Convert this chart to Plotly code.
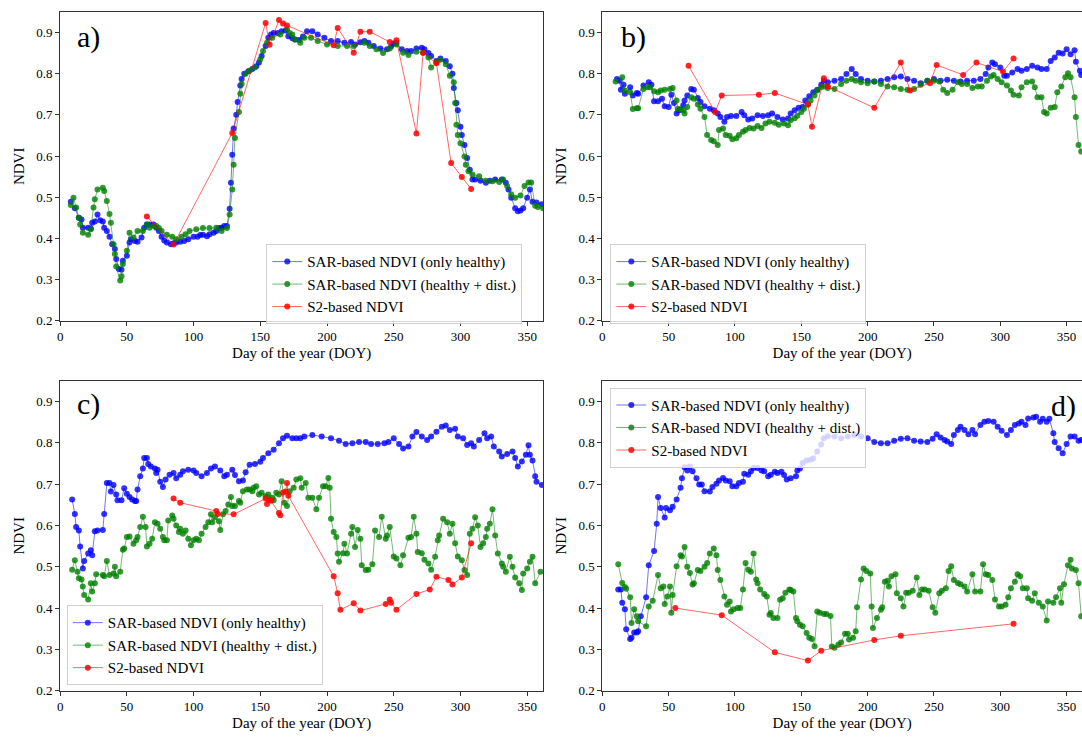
import plotly.graph_objects as go

# ---------------- Panel a ----------------
A_DOY_H = [8, 11, 14, 16, 17, 21, 23, 24, 26, 28, 30, 32, 33, 35, 37, 39, 41, 42, 44, 46, 47, 50, 52, 53, 56, 58,
           61, 63, 65, 67, 70, 72, 74, 76, 78, 80, 83, 85, 87, 90, 93, 96, 100, 103, 105, 107, 110, 112, 115, 117,
           119, 121, 123, 125, 127, 128, 129, 130, 132, 133, 135, 136, 138, 141, 144, 147, 149, 151, 154, 156, 158,
           160, 163, 166, 169, 171, 174, 176, 179, 182, 185, 189, 193, 198, 203, 208, 213, 218, 221, 225, 228, 231,
           235, 240, 245, 248, 250, 252, 256, 260, 263, 267, 271, 273, 276, 278, 282, 285, 289, 292, 294, 295, 297,
           298, 300, 301, 303, 305, 307, 309, 311, 315, 319, 322, 326, 331, 334, 336, 338, 341, 343, 345, 347, 350,
           352, 354, 357, 361]
A_NDVI_H = [0.489, 0.473, 0.450, 0.446, 0.426, 0.426, 0.424, 0.438, 0.441, 0.458, 0.444, 0.441, 0.426, 0.418, 0.404,
            0.386, 0.374, 0.350, 0.326, 0.324, 0.346, 0.358, 0.390, 0.398, 0.394, 0.392, 0.402, 0.426, 0.434, 0.434,
            0.434, 0.426, 0.418, 0.404, 0.395, 0.390, 0.386, 0.388, 0.390, 0.392, 0.394, 0.398, 0.404, 0.404, 0.408,
            0.409, 0.405, 0.410, 0.414, 0.418, 0.425, 0.426, 0.430, 0.430, 0.472, 0.535, 0.603, 0.667, 0.700, 0.731,
            0.771, 0.787, 0.800, 0.806, 0.811, 0.818, 0.827, 0.843, 0.867, 0.887, 0.895, 0.899, 0.899, 0.903, 0.905,
            0.891, 0.886, 0.883, 0.882, 0.890, 0.903, 0.903, 0.895, 0.887, 0.879, 0.879, 0.875, 0.877, 0.871, 0.876,
            0.879, 0.875, 0.867, 0.861, 0.859, 0.866, 0.873, 0.875, 0.859, 0.855, 0.855, 0.861, 0.863, 0.859, 0.850,
            0.843, 0.831, 0.837, 0.831, 0.818, 0.800, 0.765, 0.729, 0.711, 0.671, 0.651, 0.627, 0.595, 0.567, 0.543,
            0.543, 0.540, 0.535, 0.540, 0.543, 0.543, 0.535, 0.519, 0.499, 0.473, 0.466, 0.468, 0.473, 0.499, 0.519,
            0.489, 0.487, 0.483]
A_DOY_D = [8, 10, 12, 14, 15, 17, 21, 23, 25, 26, 28, 32, 33, 35, 37, 38, 40, 41, 42, 45, 46, 47, 50, 52, 55, 58,
           62, 65, 67, 70, 72, 74, 76, 80, 84, 87, 91, 94, 97, 102, 107, 112, 117, 121, 125, 127, 129, 130, 131, 134,
           135, 136, 139, 142, 146, 150, 152, 155, 159, 165, 170, 172, 174, 176, 180, 183, 188, 193, 200, 208, 215,
           220, 228, 232, 237, 242, 247, 252, 257, 261, 267, 272, 276, 278, 282, 285, 289, 292, 295, 296, 297, 298,
           300, 303, 304, 306, 309, 314, 319, 324, 329, 332, 335, 338, 341, 345, 348, 351, 353, 356, 358, 362]
A_NDVI_D = [0.481, 0.499, 0.475, 0.450, 0.434, 0.414, 0.409, 0.422, 0.475, 0.495, 0.519, 0.523, 0.515, 0.491, 0.459,
            0.438, 0.386, 0.362, 0.332, 0.298, 0.308, 0.338, 0.370, 0.414, 0.402, 0.418, 0.418, 0.434, 0.426, 0.430,
            0.430, 0.425, 0.418, 0.409, 0.404, 0.398, 0.404, 0.410, 0.418, 0.422, 0.425, 0.425, 0.426, 0.418, 0.425,
            0.458, 0.519, 0.579, 0.644, 0.707, 0.751, 0.775, 0.800, 0.807, 0.815, 0.835, 0.855, 0.875, 0.887, 0.895,
            0.907, 0.899, 0.895, 0.883, 0.875, 0.887, 0.887, 0.879, 0.871, 0.867, 0.867, 0.867, 0.875, 0.867, 0.859,
            0.850, 0.861, 0.871, 0.851, 0.845, 0.853, 0.851, 0.839, 0.815, 0.827, 0.834, 0.823, 0.795, 0.779, 0.729,
            0.676, 0.651, 0.631, 0.599, 0.579, 0.563, 0.555, 0.551, 0.540, 0.539, 0.537, 0.543, 0.527, 0.507, 0.499,
            0.504, 0.527, 0.536, 0.536, 0.479, 0.476, 0.473]
A_DOY_S2 = [65, 85, 129, 154, 157, 164, 167, 170, 205, 208, 220, 225, 232, 247, 252, 267, 272, 282, 293, 301, 308]
A_NDVI_S2 = [0.453, 0.385, 0.656, 0.923, 0.870, 0.930, 0.922, 0.917, 0.869, 0.911, 0.851, 0.902, 0.902, 0.877, 0.881,
             0.655, 0.851, 0.825, 0.583, 0.549, 0.520]

# ---------------- Panel b ----------------
B_DOY_H = [11, 13, 14, 16, 17, 21, 23, 26, 27, 31, 35, 37, 39, 42, 45, 47, 50, 52, 54, 56, 58, 61, 62, 64, 67, 69,
           72, 74, 77, 81, 84, 87, 89, 92, 94, 97, 101, 105, 107, 110, 113, 117, 121, 125, 128, 132, 136, 140, 142,
           145, 148, 151, 153, 156, 159, 162, 165, 167, 170, 175, 180, 184, 188, 191, 195, 200, 205, 210, 215, 220,
           225, 230, 235, 240, 245, 250, 255, 260, 265, 270, 275, 280, 285, 289, 291, 294, 296, 300, 303, 305, 309,
           313, 316, 320, 324, 328, 331, 335, 338, 341, 344, 347, 350, 353, 356, 357, 360, 361]
B_NDVI_H = [0.787, 0.783, 0.761, 0.773, 0.751, 0.767, 0.747, 0.753, 0.751, 0.771, 0.779, 0.773, 0.733, 0.733, 0.739,
            0.721, 0.719, 0.749, 0.729, 0.703, 0.711, 0.723, 0.735, 0.747, 0.763, 0.761, 0.741, 0.731, 0.721, 0.715,
            0.711, 0.703, 0.695, 0.683, 0.695, 0.697, 0.697, 0.707, 0.699, 0.689, 0.691, 0.699, 0.697, 0.699, 0.703,
            0.695, 0.689, 0.691, 0.703, 0.711, 0.717, 0.719, 0.735, 0.745, 0.755, 0.761, 0.773, 0.783, 0.779, 0.783,
            0.787, 0.799, 0.811, 0.799, 0.787, 0.783, 0.781, 0.783, 0.787, 0.791, 0.793, 0.787, 0.783, 0.777, 0.783,
            0.787, 0.783, 0.785, 0.783, 0.781, 0.783, 0.783, 0.787, 0.799, 0.815, 0.827, 0.823, 0.815, 0.795, 0.795,
            0.803, 0.811, 0.807, 0.811, 0.819, 0.815, 0.811, 0.811, 0.831, 0.839, 0.851, 0.849, 0.859, 0.847, 0.857,
            0.829, 0.807, 0.797]
B_DOY_D = [10, 15, 17, 21, 23, 26, 27, 31, 34, 36, 39, 42, 44, 47, 51, 53, 56, 57, 59, 61, 62, 64, 67, 69, 72, 74,
           77, 79, 82, 84, 87, 88, 91, 93, 96, 98, 101, 103, 106, 108, 111, 114, 117, 120, 123, 126, 130, 133, 137,
           140, 142, 145, 147, 150, 152, 155, 157, 160, 162, 165, 168, 170, 175, 180, 184, 188, 191, 195, 200, 205,
           210, 215, 220, 225, 230, 235, 240, 245, 250, 254, 257, 260, 264, 268, 271, 275, 279, 283, 286, 290, 293,
           295, 298, 301, 305, 308, 310, 314, 316, 320, 324, 326, 328, 331, 333, 335, 338, 341, 343, 346, 349, 351,
           353, 356, 357, 359, 361]
B_NDVI_D = [0.781, 0.791, 0.759, 0.755, 0.714, 0.716, 0.716, 0.763, 0.767, 0.767, 0.757, 0.755, 0.759, 0.761, 0.763,
            0.765, 0.735, 0.715, 0.713, 0.711, 0.703, 0.719, 0.743, 0.739, 0.725, 0.715, 0.695, 0.651, 0.639, 0.636,
            0.627, 0.663, 0.667, 0.651, 0.649, 0.641, 0.643, 0.651, 0.659, 0.663, 0.668, 0.667, 0.673, 0.668, 0.679,
            0.683, 0.681, 0.676, 0.679, 0.675, 0.687, 0.692, 0.698, 0.707, 0.715, 0.725, 0.735, 0.747, 0.759, 0.767,
            0.769, 0.765, 0.763, 0.775, 0.783, 0.787, 0.783, 0.779, 0.777, 0.781, 0.775, 0.769, 0.767, 0.763, 0.761,
            0.763, 0.773, 0.783, 0.783, 0.781, 0.761, 0.753, 0.761, 0.779, 0.775, 0.775, 0.765, 0.769, 0.769, 0.783,
            0.793, 0.797, 0.787, 0.779, 0.771, 0.759, 0.749, 0.747, 0.767, 0.779, 0.781, 0.767, 0.743, 0.743, 0.707,
            0.703, 0.717, 0.719, 0.755, 0.769, 0.791, 0.801, 0.791, 0.743, 0.695, 0.627, 0.611]
B_DOY_S2 = [65, 85, 90, 118, 130, 155, 158, 167, 170, 205, 225, 232, 247, 252, 272, 282, 302, 310]
B_NDVI_S2 = [0.819, 0.707, 0.747, 0.749, 0.753, 0.725, 0.671, 0.789, 0.769, 0.717, 0.827, 0.759, 0.777, 0.821, 0.797,
             0.827, 0.805, 0.837]

# ---------------- Panel c ----------------
C_DOY_H = [9, 11, 12, 14, 15, 17, 18, 21, 23, 24, 26, 28, 32, 33, 35, 37, 38, 40, 42, 43, 46, 48, 50, 52, 54, 56,
           57, 58, 60, 62, 63, 65, 66, 68, 71, 72, 73, 75, 77, 79, 82, 85, 87, 90, 92, 96, 100, 102, 106, 110, 113,
           116, 120, 123, 125, 129, 131, 134, 137, 139, 142, 146, 150, 152, 156, 160, 164, 167, 170, 174, 177, 180,
           183, 189, 196, 203, 209, 214, 219, 224, 229, 233, 238, 243, 246, 250, 254, 257, 261, 264, 267, 271, 275,
           278, 282, 286, 289, 292, 296, 298, 302, 305, 308, 310, 314, 318, 320, 323, 325, 329, 331, 335, 339, 341,
           343, 346, 349, 351, 352, 354, 356, 357, 361]
C_NDVI_H = [0.663, 0.628, 0.596, 0.588, 0.549, 0.496, 0.514, 0.532, 0.540, 0.528, 0.586, 0.588, 0.589, 0.628, 0.703,
            0.703, 0.682, 0.698, 0.675, 0.661, 0.661, 0.690, 0.677, 0.669, 0.663, 0.659, 0.659, 0.687, 0.719, 0.738,
            0.763, 0.763, 0.749, 0.743, 0.738, 0.727, 0.735, 0.706, 0.693, 0.711, 0.723, 0.727, 0.714, 0.723, 0.731,
            0.735, 0.733, 0.727, 0.719, 0.727, 0.738, 0.743, 0.733, 0.719, 0.723, 0.735, 0.722, 0.707, 0.709, 0.729,
            0.747, 0.749, 0.754, 0.763, 0.775, 0.783, 0.799, 0.811, 0.817, 0.811, 0.811, 0.811, 0.815, 0.819, 0.815,
            0.811, 0.805, 0.797, 0.799, 0.802, 0.802, 0.797, 0.797, 0.799, 0.802, 0.811, 0.797, 0.786, 0.791, 0.815,
            0.826, 0.815, 0.807, 0.815, 0.827, 0.839, 0.842, 0.831, 0.834, 0.815, 0.811, 0.795, 0.799, 0.791, 0.807,
            0.823, 0.811, 0.815, 0.791, 0.779, 0.767, 0.773, 0.779, 0.763, 0.743, 0.755, 0.771, 0.794, 0.771, 0.757,
            0.719, 0.706, 0.698]
C_DOY_D = [9, 11, 13, 14, 16, 17, 18, 21, 23, 24, 26, 27, 32, 33, 35, 37, 40, 41, 42, 45, 47, 48, 50, 52, 55, 57,
           58, 60, 62, 64, 65, 67, 69, 71, 73, 75, 77, 78, 80, 81, 84, 85, 87, 89, 90, 92, 94, 96, 98, 100, 102, 104,
           106, 109, 111, 113, 114, 116, 119, 120, 122, 124, 126, 128, 129, 131, 134, 135, 137, 140, 142, 144, 145,
           147, 149, 151, 154, 156, 159, 160, 162, 164, 166, 168, 170, 172, 175, 177, 180, 181, 184, 186, 189, 192,
           194, 197, 199, 201, 202, 203, 205, 207, 208, 209, 212, 213, 215, 218, 219, 221, 223, 225, 226, 229, 231,
           234, 236, 239, 241, 244, 245, 247, 250, 252, 255, 257, 261, 263, 265, 267, 268, 271, 273, 276, 278, 281,
           283, 284, 287, 290, 292, 294, 296, 298, 301, 303, 305, 307, 309, 311, 313, 315, 317, 319, 320, 322, 324,
           326, 328, 331, 332, 334, 337, 339, 341, 344, 346, 347, 350, 352, 354, 356, 360]
C_NDVI_D = [0.493, 0.516, 0.488, 0.472, 0.469, 0.452, 0.432, 0.421, 0.460, 0.440, 0.460, 0.482, 0.480, 0.477, 0.514,
            0.480, 0.484, 0.500, 0.477, 0.488, 0.541, 0.544, 0.572, 0.573, 0.556, 0.564, 0.572, 0.596, 0.621, 0.596,
            0.549, 0.556, 0.568, 0.608, 0.604, 0.592, 0.572, 0.564, 0.564, 0.612, 0.624, 0.616, 0.600, 0.584, 0.592,
            0.580, 0.588, 0.568, 0.552, 0.564, 0.568, 0.564, 0.580, 0.596, 0.608, 0.627, 0.608, 0.620, 0.610, 0.589,
            0.627, 0.635, 0.651, 0.669, 0.647, 0.647, 0.659, 0.655, 0.683, 0.687, 0.687, 0.683, 0.691, 0.695, 0.675,
            0.679, 0.671, 0.675, 0.667, 0.661, 0.679, 0.675, 0.707, 0.655, 0.647, 0.683, 0.691, 0.711, 0.714, 0.691,
            0.703, 0.667, 0.667, 0.639, 0.667, 0.695, 0.695, 0.715, 0.691, 0.616, 0.584, 0.572, 0.532, 0.512, 0.533,
            0.556, 0.532, 0.580, 0.596, 0.548, 0.589, 0.568, 0.504, 0.492, 0.493, 0.506, 0.588, 0.572, 0.621, 0.568,
            0.576, 0.596, 0.525, 0.520, 0.504, 0.528, 0.570, 0.572, 0.621, 0.580, 0.536, 0.533, 0.517, 0.508, 0.493,
            0.524, 0.564, 0.576, 0.616, 0.608, 0.580, 0.604, 0.557, 0.525, 0.516, 0.492, 0.480, 0.580, 0.592, 0.620,
            0.600, 0.548, 0.557, 0.572, 0.592, 0.604, 0.639, 0.576, 0.532, 0.508, 0.500, 0.488, 0.524, 0.500, 0.474,
            0.460, 0.444, 0.484, 0.496, 0.512, 0.524, 0.460, 0.488]
C_DOY_S2 = [85, 90, 117, 118, 130, 154, 155, 157, 158, 164, 165, 167, 169, 170, 171, 205, 208, 210, 220, 225, 244,
            247, 248, 252, 267, 277, 282, 291, 294, 301, 308]
C_NDVI_S2 = [0.665, 0.655, 0.635, 0.628, 0.627, 0.665, 0.652, 0.662, 0.660, 0.630, 0.625, 0.680, 0.682, 0.703,
             0.672, 0.477, 0.436, 0.396, 0.412, 0.394, 0.410, 0.421, 0.413, 0.396, 0.434, 0.445, 0.476, 0.468, 0.457,
             0.474, 0.557]

# ---------------- Panel d ----------------
D_DOY_H = [12, 14, 15, 17, 18, 21, 22, 24, 26, 27, 29, 33, 35, 39, 41, 42, 44, 47, 48, 51, 53, 56, 59, 60, 62, 64,
           66, 68, 71, 73, 75, 77, 81, 83, 86, 88, 91, 93, 96, 98, 101, 103, 106, 107, 110, 112, 114, 117, 120, 122,
           125, 127, 130, 132, 135, 137, 139, 142, 146, 147, 149, 151, 154, 157, 159, 162, 165, 167, 170, 175, 180,
           185, 190, 195, 200, 205, 210, 215, 220, 225, 230, 235, 240, 245, 249, 252, 255, 258, 260, 263, 265, 268,
           270, 273, 276, 279, 281, 285, 288, 291, 295, 298, 301, 305, 308, 311, 314, 316, 319, 321, 325, 327, 330,
           332, 335, 337, 340, 341, 344, 347, 350, 353, 356, 359, 361]
D_NDVI_H = [0.445, 0.445, 0.413, 0.397, 0.349, 0.325, 0.328, 0.341, 0.341, 0.344, 0.380, 0.426, 0.504, 0.538, 0.604,
            0.669, 0.642, 0.619, 0.642, 0.637, 0.645, 0.663, 0.691, 0.714, 0.741, 0.733, 0.743, 0.731, 0.714, 0.699,
            0.699, 0.683, 0.682, 0.693, 0.701, 0.709, 0.715, 0.709, 0.707, 0.695, 0.695, 0.703, 0.706, 0.725, 0.723,
            0.731, 0.739, 0.739, 0.733, 0.731, 0.719, 0.723, 0.730, 0.727, 0.730, 0.722, 0.711, 0.714, 0.719, 0.733,
            0.738, 0.751, 0.757, 0.759, 0.762, 0.779, 0.796, 0.811, 0.816, 0.815, 0.811, 0.815, 0.819, 0.815, 0.811,
            0.802, 0.799, 0.799, 0.805, 0.810, 0.811, 0.805, 0.803, 0.802, 0.810, 0.821, 0.813, 0.807, 0.803, 0.797,
            0.819, 0.831, 0.839, 0.831, 0.821, 0.831, 0.821, 0.843, 0.851, 0.853, 0.851, 0.839, 0.829, 0.819, 0.831,
            0.843, 0.847, 0.851, 0.843, 0.859, 0.861, 0.863, 0.851, 0.858, 0.851, 0.858, 0.823, 0.802, 0.787, 0.775,
            0.797, 0.815, 0.815, 0.805, 0.807]
D_DOY_D = [12, 15, 17, 18, 21, 22, 24, 26, 27, 33, 35, 38, 42, 44, 46, 47, 49, 51, 52, 53, 56, 59, 60, 62, 64, 66,
           68, 69, 72, 74, 77, 79, 81, 84, 86, 87, 89, 92, 94, 96, 97, 99, 102, 104, 106, 108, 110, 112, 114, 116,
           117, 119, 122, 124, 126, 127, 129, 132, 134, 136, 138, 141, 142, 144, 146, 147, 149, 151, 154, 156, 158,
           160, 162, 164, 167, 169, 172, 173, 175, 178, 180, 183, 185, 186, 189, 191, 192, 195, 197, 199, 202, 203,
           204, 207, 210, 211, 213, 215, 216, 218, 221, 222, 225, 227, 229, 231, 234, 237, 239, 241, 243, 246, 249,
           251, 254, 256, 259, 261, 263, 265, 268, 270, 273, 275, 279, 281, 285, 287, 289, 291, 294, 296, 299, 301,
           304, 306, 308, 311, 313, 315, 317, 320, 321, 324, 326, 329, 332, 335, 336, 340, 342, 345, 346, 348, 351,
           353, 354, 357, 359, 361]
D_NDVI_D = [0.506, 0.461, 0.451, 0.447, 0.426, 0.364, 0.397, 0.380, 0.368, 0.356, 0.404, 0.418, 0.480, 0.448, 0.452,
            0.410, 0.428, 0.452, 0.389, 0.432, 0.501, 0.528, 0.525, 0.548, 0.500, 0.485, 0.457, 0.460, 0.492, 0.490,
            0.500, 0.509, 0.532, 0.544, 0.528, 0.492, 0.468, 0.428, 0.408, 0.416, 0.392, 0.397, 0.400, 0.400, 0.445,
            0.509, 0.493, 0.488, 0.532, 0.469, 0.460, 0.445, 0.434, 0.428, 0.384, 0.388, 0.376, 0.376, 0.420, 0.424,
            0.437, 0.445, 0.444, 0.440, 0.376, 0.368, 0.360, 0.356, 0.340, 0.328, 0.325, 0.308, 0.392, 0.389, 0.386,
            0.386, 0.381, 0.307, 0.304, 0.312, 0.317, 0.338, 0.338, 0.324, 0.328, 0.344, 0.402, 0.469, 0.496, 0.490,
            0.484, 0.404, 0.352, 0.376, 0.396, 0.402, 0.464, 0.466, 0.452, 0.477, 0.482, 0.436, 0.424, 0.404, 0.437,
            0.437, 0.442, 0.474, 0.432, 0.445, 0.445, 0.442, 0.402, 0.389, 0.436, 0.442, 0.448, 0.490, 0.501, 0.468,
            0.461, 0.458, 0.452, 0.440, 0.482, 0.440, 0.440, 0.506, 0.482, 0.480, 0.468, 0.421, 0.404, 0.404, 0.408,
            0.426, 0.448, 0.464, 0.482, 0.477, 0.448, 0.448, 0.424, 0.418, 0.436, 0.413, 0.404, 0.370, 0.416, 0.413,
            0.426, 0.448, 0.413, 0.458, 0.504, 0.517, 0.496, 0.492, 0.460, 0.380]
D_DOY_S2 = [55, 90, 130, 155, 165, 205, 225, 310]
D_NDVI_S2 = [0.400, 0.383, 0.293, 0.273, 0.297, 0.323, 0.333, 0.362]

SERIES_NAMES = ["SAR-based NDVI (only healthy)", "SAR-based NDVI (healthy + dist.)", "S2-based NDVI"]
PANEL_LABELS = ["a)", "b)", "c)", "d)"]
X_TICKS = [0, 50, 100, 150, 200, 250, 300, 350]
Y_TICKS = [0.2, 0.3, 0.4, 0.5, 0.6, 0.7, 0.8, 0.9]

FONT = "Liberation Serif, Times New Roman, serif"
W, H = 1082, 740

panels = [
    (A_DOY_H, A_NDVI_H, A_DOY_D, A_NDVI_D, A_DOY_S2, A_NDVI_S2),
    (B_DOY_H, B_NDVI_H, B_DOY_D, B_NDVI_D, B_DOY_S2, B_NDVI_S2),
    (C_DOY_H, C_NDVI_H, C_DOY_D, C_NDVI_D, C_DOY_S2, C_NDVI_S2),
    (D_DOY_H, D_NDVI_H, D_DOY_D, D_NDVI_D, D_DOY_S2, D_NDVI_S2),
]

line_cols = ["rgba(0,0,255,0.55)", "rgba(0,128,0,0.55)", "rgba(255,0,0,0.6)"]
mark_cols = ["rgba(0,0,255,0.8)", "rgba(0,128,0,0.8)", "rgba(255,0,0,0.85)"]

# pixel layout
xdom_left = [57.3 / W, 541.7 / W]
xdom_right = [601.0 / W, 1.0]
ydom_top = [1 - 324.3 / H, 1 - 12.0 / H]
ydom_bot = [1 - 698.3 / H, 1 - 385.0 / H]
doms = [(xdom_left, ydom_top), (xdom_right, ydom_top), (xdom_left, ydom_bot), (xdom_right, ydom_bot)]
xranges = [[0, 362], [0, 361.6], [0, 362], [0, 361.6]]

fig = go.Figure()
legend_ids = ["legend", "legend2", "legend3", "legend4"]
for i, p in enumerate(panels):
    ax = "" if i == 0 else str(i + 1)
    for k in range(3):
        xs, ys = p[2 * k], p[2 * k + 1]
        fig.add_trace(go.Scatter(
            x=xs, y=ys, mode="lines+markers", name=SERIES_NAMES[k],
            line=dict(color=line_cols[k], width=1),
            marker=dict(color=mark_cols[k], size=6, line=dict(width=0)),
            xaxis="x" + ax, yaxis="y" + ax, legend=legend_ids[i], showlegend=True,
        ))

axis_common = dict(showline=True, linecolor="#333", linewidth=1, ticks="outside", ticklen=4,
                   tickcolor="#333", showgrid=False, zeroline=False,
                   tickfont=dict(family=FONT, size=13, color="black"))
layout = dict(width=W, height=H, margin=dict(l=0, r=0, t=0, b=0),
              paper_bgcolor="white", plot_bgcolor="white",
              font=dict(family=FONT, color="black"))
for i in range(4):
    ax = "" if i == 0 else str(i + 1)
    xd, yd = doms[i]
    right_panel = i in (1, 3)
    layout["xaxis" + ax] = dict(axis_common, domain=xd, range=xranges[i], tickvals=X_TICKS,
                                anchor="y" + ax, mirror=True,
                                title=dict(text="Day of the year (DOY)", font=dict(family=FONT, size=15),
                                           standoff=4))
    layout["yaxis" + ax] = dict(axis_common, domain=yd, range=[0.2, 0.95], tickvals=Y_TICKS,
                                ticktext=["%.1f" % v for v in Y_TICKS],
                                anchor="x" + ax, mirror=(not right_panel),
                                title=dict(text="NDVI", font=dict(family=FONT, size=15), standoff=8))

legend_pos = [(264, 247), (609, 247), (64, 612), (609, 392)]
for i, lid in enumerate(legend_ids):
    lx, ly = legend_pos[i]
    layout[lid] = dict(x=lx / W, y=1 - ly / H, xanchor="left", yanchor="top",
                       bgcolor="rgba(255,255,255,0.8)", bordercolor="#d0d0d0", borderwidth=1,
                       font=dict(family=FONT, size=15, color="black"), itemwidth=30,
                       tracegroupgap=0)

fig.update_layout(**layout)

label_pos = [(72, 37, "left"), (618, 37, "left"), (72, 408, "left"), (1078, 410, "right")]
for i, (px, py, anc) in enumerate(label_pos):
    fig.add_annotation(text=PANEL_LABELS[i], xref="paper", yref="paper", x=px / W, y=1 - py / H,
                       xanchor=anc, yanchor="middle", showarrow=False,
                       font=dict(family=FONT, size=30, color="black"))

fig.write_html("out.html")
